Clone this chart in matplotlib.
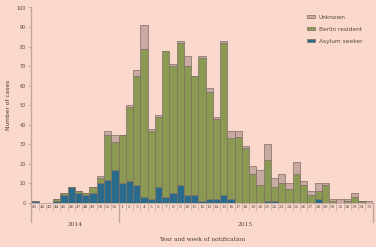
import numpy as np
import matplotlib.pyplot as plt

weeks = [41, 42, 43, 44, 45, 46, 47, 48, 49, 50, 51, 52] + list(range(1, 36))
asylum = [1, 0, 0, 1, 4, 8, 5, 4, 5, 10, 12, 17,
          10, 11, 9, 3, 2, 8, 3, 5, 9, 4, 4, 1, 2, 2, 4, 2,
          0, 0, 0, 0, 1, 1, 0, 0, 0, 0, 0, 2, 0, 0, 0, 0, 0, 0, 0]
berlin = [0, 0, 0, 1, 1, 0, 1, 1, 3, 3, 23, 14,
          25, 38, 56, 76, 35, 36, 75, 65, 73, 66, 61, 73, 55, 41, 78, 31,
          34, 28, 15, 9, 21, 7, 10, 7, 15, 9, 4, 4, 9, 1, 0, 1, 3, 1, 0]
unknown = [0, 0, 0, 0, 0, 0, 0, 0, 0, 1, 2, 4,
           0, 1, 3, 12, 1, 1, 0, 1, 1, 5, 0, 1, 2, 1, 1, 4,
           3, 1, 4, 8, 8, 5, 5, 3, 6, 2, 2, 4, 1, 1, 2, 1, 2, 0, 1]
years = ['2014', '2015']

bg = '#fad8cc'
c_blue = '#2a6b8c'
c_green = '#8b9a52'
c_unk = '#c9aaa2'
edge = '#7d6e66'
grid_c = '#bfa79f'

x = np.arange(len(weeks))
asylum = np.array(asylum)
berlin = np.array(berlin)
unknown = np.array(unknown)

fig = plt.figure(figsize=(3.76, 2.47), dpi=100, facecolor=bg)
ax = fig.add_axes([31.4/376, 1-203/247, (372.6-31.4)/376, (203-7.5)/247])
ax.set_facecolor(bg)

ax.bar(x, asylum, width=1, color=c_blue, edgecolor=edge, linewidth=0.5, label='Asylum seeker')
ax.bar(x, berlin, width=1, bottom=asylum, color=c_green, edgecolor=edge, linewidth=0.5, label='Berlin resident')
ax.bar(x, unknown, width=1, bottom=asylum+berlin, color=c_unk, edgecolor=edge, linewidth=0.5, label='Unknown')

ax.set_xlim(-0.5, len(weeks)-0.5)
ax.set_ylim(0, 100)
for s in ax.spines.values():
    s.set_visible(False)

ax.set_yticks(range(0, 101, 10))
ax.tick_params(axis='y', length=2, width=0.6, color=grid_c, labelsize=3.5,
               labelcolor='#5a4a44', pad=2)
ax.set_xticks([])

# left axis line and year separators
for xv in [-0.5, 11.5, len(weeks)-0.5]:
    ax.plot([xv, xv], [0 if xv != -0.5 else 100, -9.8], color=grid_c, lw=1.0, clip_on=False)
ax.plot([-0.5, len(weeks)-0.5], [0, 0], color=grid_c, lw=0.6, clip_on=False)

# week label cells
for i, w in enumerate(weeks):
    ax.text(i, -2.0, str(w), ha='center', va='center', fontsize=3.2,
            family='DejaVu Serif', color='#5a4a44')
    if i > 0:
        ax.plot([i-0.5, i-0.5], [0, -3.8], color=grid_c, lw=0.5, clip_on=False)

ax.text(5.5, -10.9, years[0], ha='center', va='center', fontsize=4.2,
        family='DejaVu Serif', color='#5a4a44')
ax.text(29.0, -10.9, years[1], ha='center', va='center', fontsize=4.2,
        family='DejaVu Serif', color='#5a4a44')
ax.text(23.0, -18.5, 'Year and week of notification', ha='center', va='center',
        fontsize=4.2, family='DejaVu Serif', color='#4a3a34')

ax.set_ylabel('Number of cases', fontsize=4.2, color='#4a3a34', labelpad=4)

h, l = ax.get_legend_handles_labels()
leg = ax.legend(h[::-1], l[::-1], loc='upper right', bbox_to_anchor=(0.985, 0.99),
                frameon=False, fontsize=4.2, handlelength=1.4, handleheight=0.5,
                labelspacing=1.2, handletextpad=0.6)
for t in leg.get_texts():
    t.set_color('#5a4a44')

fig.savefig('out.png', dpi=100, facecolor=bg)
